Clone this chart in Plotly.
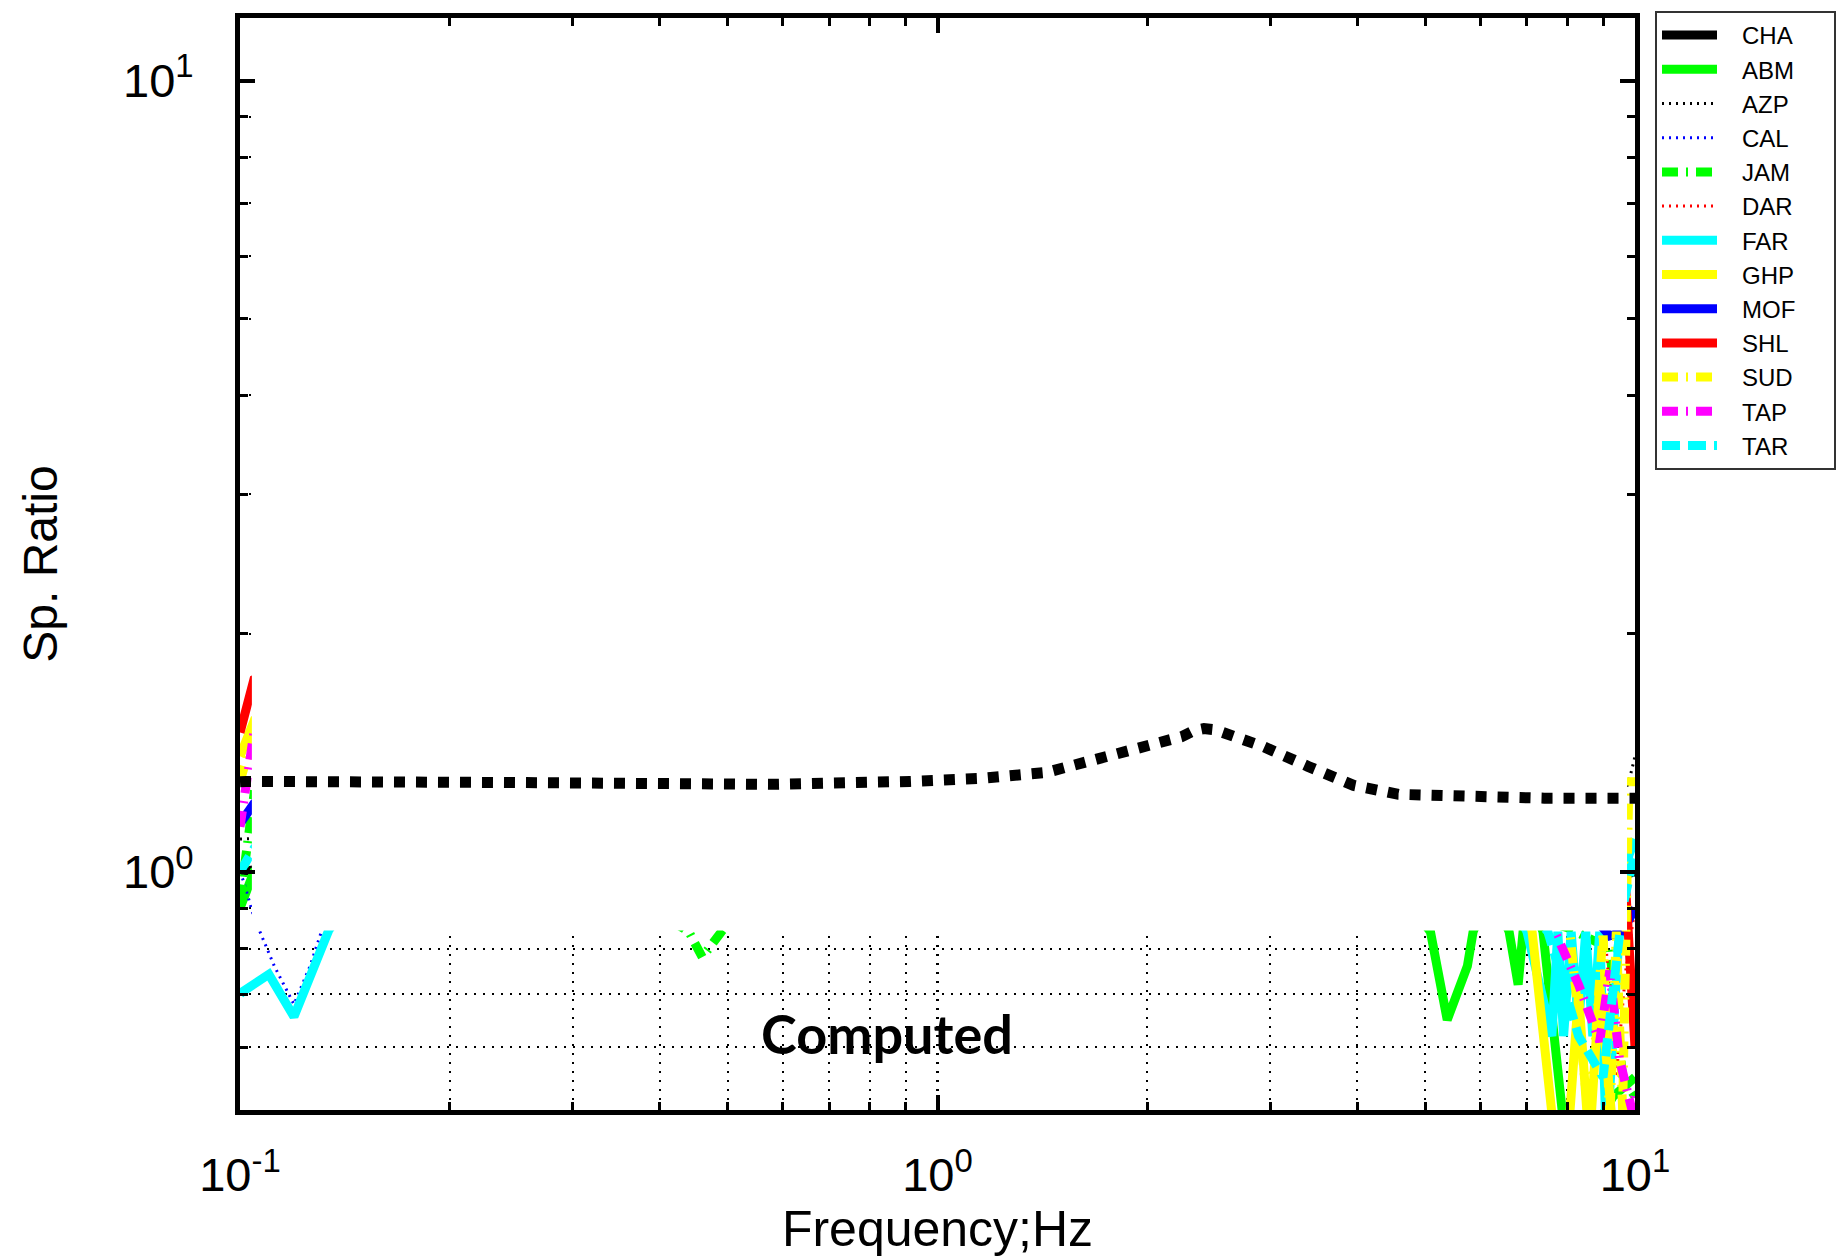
import numpy as np
import plotly.graph_objects as go

# ---------------- data ----------------
STATIONS = ["CHA", "ABM", "AZP", "CAL", "JAM", "DAR", "FAR", "GHP", "MOF", "SHL", "SUD", "TAP", "TAR"]

F_CHA = [0.1, 0.15, 0.3, 0.6, 1.0, 2.0, 3.0, 5.0, 8.0, 10.0]
V_CHA = [1.0, 1.05, 1.08, 1.10, 1.12, 1.25, 1.20, 1.05, 0.95, 1.0]

F_ABM = [0.1, 0.1047, 0.13, 0.2, 0.5, 1.0, 2.0, 3.0, 4.5, 5.09, 5.38, 5.55, 5.75, 5.86, 6.2, 6.6, 6.8, 7.0, 7.38, 7.9, 8.6, 9.3, 10.0]
V_ABM = [0.90, 1.0, 1.10, 1.15, 1.10, 1.12, 1.20, 1.10, 0.97, 0.84, 0.65, 0.70, 0.76, 0.84, 0.95, 0.84, 0.72, 0.95, 0.84, 0.48, 0.46, 0.52, 0.55]

F_AZP = [0.1, 0.3, 1.0, 3.0, 6.0, 9.0, 9.8, 10.0]
V_AZP = [1.10, 1.15, 1.20, 1.30, 1.20, 1.10, 1.30, 1.40]

F_CAL = [0.1, 0.1013, 0.1047, 0.112, 0.1195, 0.126, 0.131, 0.15, 0.25, 0.5, 1.0, 2.0, 4.0, 7.0, 8.8, 9.0, 9.05, 9.5, 10.0]
V_CAL = [1.0, 0.97, 0.876, 0.76, 0.68, 0.76, 0.843, 1.0, 1.10, 1.05, 1.10, 1.20, 1.0, 0.90, 0.95, 0.84, 0.45, 0.45, 0.50]

F_JAM = [0.1, 0.1047, 0.13, 0.2, 0.35, 0.44, 0.46, 0.49, 0.55, 1.0, 2.0, 4.0, 6.5, 8.0, 9.2, 9.6, 10.0]
V_JAM = [0.92, 1.25, 1.20, 1.10, 0.95, 0.84, 0.78, 0.84, 0.95, 1.05, 1.10, 1.0, 0.90, 0.85, 0.80, 0.55, 0.52]

F_DAR = [0.1, 0.1047, 0.13, 0.3, 1.0, 3.0, 7.0, 9.0, 9.4, 9.7, 10.0]
V_DAR = [1.15, 1.20, 1.25, 1.20, 1.15, 1.10, 1.0, 0.90, 0.55, 0.75, 0.90]

F_FAR = [0.1, 0.1007, 0.110, 0.1195, 0.134, 0.16, 0.3, 1.0, 2.0, 4.0, 6.5, 7.0, 7.3, 7.6, 7.75, 7.9, 8.1, 8.3, 8.5, 8.7, 8.9, 9.1, 9.5, 9.8, 10.0]
V_FAR = [0.70, 0.705, 0.742, 0.656, 0.843, 1.05, 1.10, 1.15, 1.20, 1.10, 0.95, 0.84, 0.72, 0.62, 0.84, 0.62, 0.84, 0.64, 0.84, 0.62, 0.84, 0.45, 0.85, 1.05, 1.10]

F_GHP = [0.1, 0.1047, 0.13, 0.3, 1.0, 2.0, 4.0, 6.8, 7.12, 7.63, 8.0, 8.3, 8.6, 8.9, 9.3, 9.8, 10.0]
V_GHP = [1.40, 1.55, 1.50, 1.30, 1.20, 1.25, 1.10, 1.0, 0.84, 0.48, 0.45, 0.70, 0.45, 0.72, 0.47, 0.50, 0.48]

F_MOF = [0.1, 0.1047, 0.13, 0.3, 1.0, 3.0, 6.0, 8.5, 9.2, 9.6, 10.0]
V_MOF = [1.15, 1.22, 1.30, 1.20, 1.10, 1.15, 1.0, 0.90, 0.83, 0.84, 0.90]

F_SHL = [0.1, 0.1047, 0.13, 0.2, 0.5, 1.0, 2.0, 4.0, 7.0, 9.0, 9.7, 9.95, 10.0]
V_SHL = [1.50, 1.75, 1.90, 1.60, 1.30, 1.20, 1.30, 1.10, 1.0, 0.97, 0.95, 0.64, 0.60]

F_SUD = [0.1, 0.1047, 0.13, 0.3, 1.0, 3.0, 6.0, 8.0, 8.6, 9.0, 9.2, 9.4, 9.6, 9.8, 10.0]
V_SUD = [1.30, 1.50, 1.40, 1.20, 1.10, 1.15, 1.0, 0.90, 0.48, 0.84, 0.48, 0.84, 0.50, 1.30, 1.30]

F_TAP = [0.1, 0.1047, 0.13, 0.3, 1.0, 3.0, 6.0, 7.4, 7.68, 8.3, 8.9, 9.2, 9.5, 9.9, 10.0]
V_TAP = [1.14, 1.50, 1.40, 1.20, 1.10, 1.15, 1.0, 0.95, 0.84, 0.72, 0.61, 0.75, 0.58, 0.50, 0.52]

F_TAR = [0.1, 0.1047, 0.13, 0.3, 1.0, 3.0, 6.0, 7.0, 7.5, 8.3, 9.0, 9.6, 9.85, 10.0]
V_TAR = [1.0, 1.07, 1.10, 1.15, 1.10, 1.20, 1.0, 0.90, 0.84, 0.62, 0.55, 0.90, 1.0, 1.05]

F_COMPUTED = [0.1, 0.102, 0.239, 0.585, 0.913, 1.16, 1.43, 1.71, 1.99, 2.24, 2.33, 2.41, 2.50, 2.60, 2.93, 3.40, 3.95, 4.58, 5.49, 7.41, 9.40, 10.0]
V_COMPUTED = [1.300, 1.301, 1.297, 1.290, 1.301, 1.313, 1.335, 1.391, 1.432, 1.482, 1.508, 1.517, 1.512, 1.495, 1.440, 1.359, 1.286, 1.253, 1.246, 1.239, 1.239, 1.239]

X_TICKS = [0.1, 1.0, 10.0]
X_TICKTEXT = ["10<sup>-1</sup>", "10<sup>0</sup>", "10<sup>1</sup>"]
Y_TICKS = [1.0, 10.0]
Y_TICKTEXT = ["10<sup>0</sup>", "10<sup>1</sup>"]
X_MINOR = [0.2, 0.3, 0.4, 0.5, 0.6, 0.7, 0.8, 0.9, 2, 3, 4, 5, 6, 7, 8, 9]
Y_MINOR = [0.5, 0.6, 0.7, 0.8, 0.9, 2, 3, 4, 5, 6, 7, 8, 9]

# ---------------- styles ----------------
DOT_THIN = "2px,5px"
DASH_DOT = "16px,8px,2px,8px"
SERIES = {
    "CHA": (F_CHA, V_CHA, "#000000", 9, "solid"),
    "ABM": (F_ABM, V_ABM, "#00FF00", 9, "solid"),
    "AZP": (F_AZP, V_AZP, "#000000", 3, DOT_THIN),
    "CAL": (F_CAL, V_CAL, "#0000FF", 3, DOT_THIN),
    "JAM": (F_JAM, V_JAM, "#00FF00", 9, DASH_DOT),
    "DAR": (F_DAR, V_DAR, "#FF0000", 3, DOT_THIN),
    "FAR": (F_FAR, V_FAR, "#00FFFF", 9, "solid"),
    "GHP": (F_GHP, V_GHP, "#FFFF00", 9, "solid"),
    "MOF": (F_MOF, V_MOF, "#0000FF", 9, "solid"),
    "SHL": (F_SHL, V_SHL, "#FF0000", 9, "solid"),
    "SUD": (F_SUD, V_SUD, "#FFFF00", 9, DASH_DOT),
    "TAP": (F_TAP, V_TAP, "#FF00FF", 9, DASH_DOT),
    "TAR": (F_TAR, V_TAR, "#00FFFF", 9, "18px,8px"),
}

FONT = "Liberation Sans, Arial, sans-serif"
NBSP = "\u00a0"

fig = go.Figure()
for name in STATIONS:
    f, v, col, w, dash = SERIES[name]
    fig.add_trace(go.Scatter(x=f, y=v, mode="lines", name=NBSP * 3 + name + NBSP * 5,
                             line=dict(color=col, width=w, dash=dash)))

# white masking panel (as in the original figure) drawn above the station curves
MASK_X0, MASK_X1, MASK_Y0, MASK_Y1 = 0.1040, 9.74, 0.843, 14.0
fig.add_trace(go.Scatter(x=[MASK_X0, MASK_X1, MASK_X1, MASK_X0, MASK_X0],
                         y=[MASK_Y0, MASK_Y0, MASK_Y1, MASK_Y1, MASK_Y0],
                         mode="lines", fill="toself", fillcolor="white",
                         line=dict(width=0, color="white"),
                         showlegend=False, hoverinfo="skip"))

fig.add_trace(go.Scatter(x=F_COMPUTED, y=V_COMPUTED, mode="lines", name="Computed",
                         line=dict(color="black", width=11, dash="11px,11px"),
                         showlegend=False))

GRID_DASH = "2px,7px"
fig.update_xaxes(
    type="log", range=[-1, 1],
    tickmode="array", tickvals=X_TICKS, ticktext=X_TICKTEXT,
    ticks="inside", ticklen=15, tickwidth=4, tickcolor="black",
    showline=True, linewidth=5, linecolor="black", mirror="ticks",
    showgrid=True, gridcolor="black", gridwidth=3, griddash=GRID_DASH,
    zeroline=False,
    tickfont=dict(family=FONT, size=47, color="black"),
    ticklabelstandoff=20,
    minor=dict(tickmode="array", tickvals=X_MINOR, ticks="inside", ticklen=8,
               tickwidth=3, tickcolor="black", showgrid=True, gridcolor="black",
               gridwidth=2, griddash=GRID_DASH),
    title=dict(text="Frequency;Hz", font=dict(family=FONT, size=50, color="black"), standoff=12),
)
fig.update_yaxes(
    type="log", range=[np.log10(0.5), np.log10(12)],
    tickmode="array", tickvals=Y_TICKS, ticktext=Y_TICKTEXT,
    ticks="inside", ticklen=15, tickwidth=4, tickcolor="black",
    showline=True, linewidth=5, linecolor="black", mirror="ticks",
    showgrid=True, gridcolor="black", gridwidth=3, griddash=GRID_DASH,
    zeroline=False,
    tickfont=dict(family=FONT, size=47, color="black"),
    ticklabelstandoff=32,
    minor=dict(tickmode="array", tickvals=Y_MINOR, ticks="inside", ticklen=8,
               tickwidth=3, tickcolor="black", showgrid=True, gridcolor="black",
               gridwidth=2, griddash=GRID_DASH),
    title=dict(text="Sp. Ratio", font=dict(family=FONT, size=48, color="black"), standoff=52),
)

fig.add_annotation(text="<b>Computed</b>", xref="paper", yref="paper",
                   x=0.4638, y=0.070, xanchor="center", yanchor="middle",
                   showarrow=False, font=dict(family="Lato, Open Sans, sans-serif", size=54, color="black"))

L, R, T, B = 232, 220, 3, 155
PLOT_W = 1847 - L - R
fig.update_layout(
    width=1847, height=1257,
    margin=dict(l=L, r=R, t=T, b=B),
    plot_bgcolor="white", paper_bgcolor="white",
    showlegend=True,
    legend=dict(x=(1655 - 8 - L) / PLOT_W, y=1.0064, xanchor="left", yanchor="top",
                bgcolor="white", bordercolor="#333333", borderwidth=2,
                font=dict(family=FONT, size=24, color="black"),
                itemwidth=55, tracegroupgap=0),
)

fig.write_html("out.html")
